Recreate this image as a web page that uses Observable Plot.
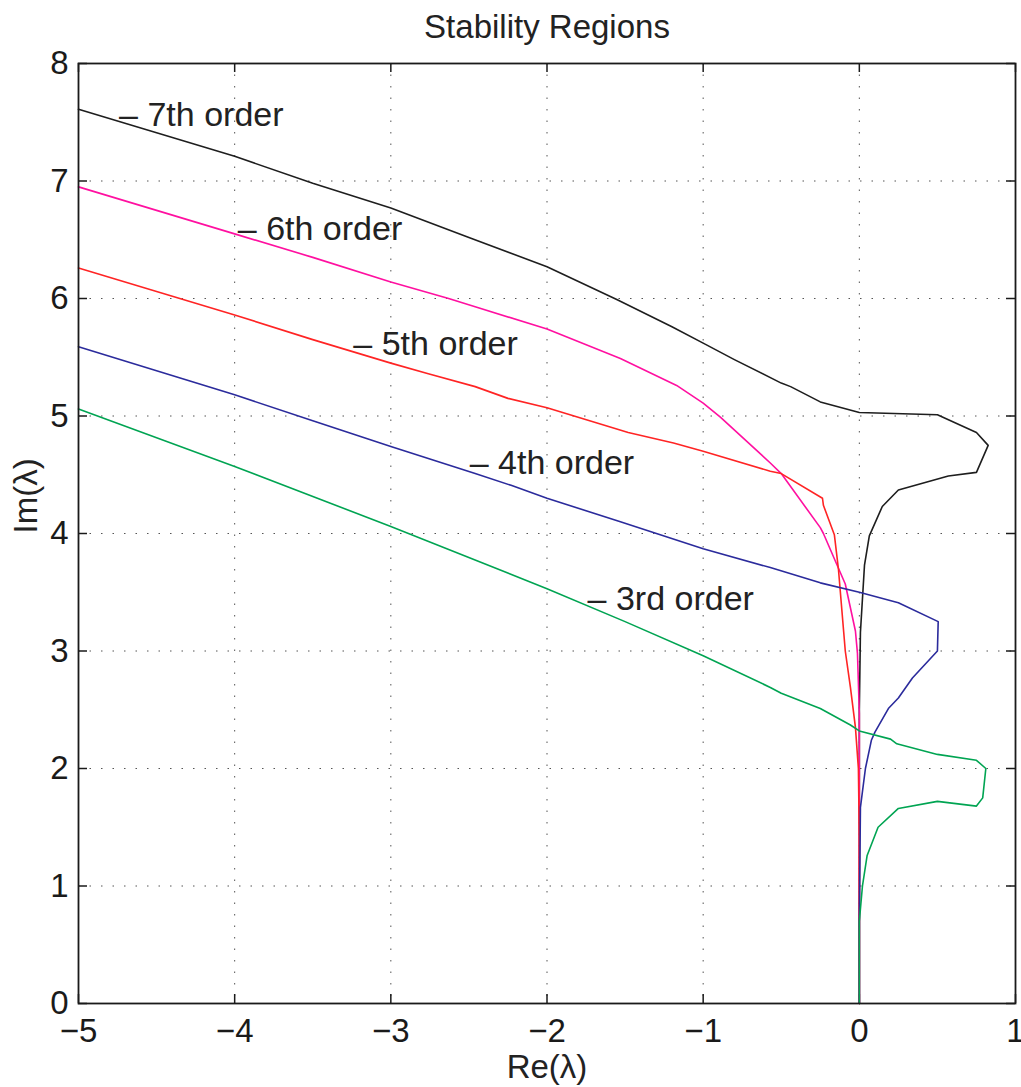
<!DOCTYPE html>
<html>
<head>
<meta charset="utf-8">
<script src="https://cdn.jsdelivr.net/npm/d3@7"></script>
<script src="https://cdn.jsdelivr.net/npm/@observablehq/plot@0.6"></script>
<style>
  html, body { margin: 0; padding: 0; background: white; }
  svg { overflow: visible; }
</style>
</head>
<body>
<div id="chart"></div>
<script>
// ---- data ----
const xTicks = [-5, -4, -3, -2, -1, 0, 1];
const yTicks = [0, 1, 2, 3, 4, 5, 6, 7, 8];

const order7X = [-5, -4, -3.5, -3, -2.5, -2, -1.55, -1.2, -1, -0.8, -0.5, -0.44, -0.25, 0, 0.5, 0.75, 0.825, 0.75, 0.57, 0.25, 0.147, 0.064, 0.033, 0.007, 0, 0];
const order7Y = [7.61, 7.21, 6.98, 6.77, 6.52, 6.27, 5.99, 5.76, 5.62, 5.48, 5.28, 5.25, 5.12, 5.03, 5.01, 4.86, 4.75, 4.52, 4.49, 4.37, 4.23, 3.98, 3.73, 3.16, 2.5, 0];

const order6X = [-5, -4, -3.5, -3, -2.63, -2.46, -2, -1.53, -1.17, -1, -0.89, -0.57, -0.5, -0.25, -0.23, -0.09, -0.025, -0.012, 0, 0];
const order6Y = [6.95, 6.55, 6.35, 6.14, 6.0, 5.93, 5.74, 5.49, 5.26, 5.11, 4.99, 4.6, 4.51, 4.05, 4.0, 3.57, 3.17, 2.98, 2.47, 0];

const order5X = [-5, -4, -3.5, -3, -2.76, -2.46, -2.25, -2, -1.48, -1.19, -1, -0.57, -0.5, -0.236, -0.23, -0.16, -0.134, -0.1, -0.09, -0.057, -0.025, -0.006, 0, 0];
const order5Y = [6.26, 5.86, 5.65, 5.45, 5.36, 5.25, 5.15, 5.07, 4.86, 4.77, 4.70, 4.53, 4.51, 4.30, 4.24, 3.99, 3.70, 3.16, 3.0, 2.69, 2.35, 2.0, 1.4, 0];

const order4X = [-5, -4, -3.5, -3, -2.46, -2.23, -2, -1.53, -1, -0.57, -0.25, 0, 0.25, 0.505, 0.5, 0.34, 0.25, 0.186, 0.1, 0.077, 0.039, 0.007, 0, 0];
const order4Y = [5.59, 5.18, 4.96, 4.74, 4.51, 4.41, 4.30, 4.10, 3.87, 3.71, 3.58, 3.50, 3.41, 3.25, 3.0, 2.77, 2.6, 2.51, 2.31, 2.24, 2.0, 1.67, 0.7, 0];

const order3X = [-5, -4, -3, -2, -1.5, -1, -0.57, -0.5, -0.25, -0.057, 0, 0.2, 0.24, 0.5, 0.75, 0.81, 0.79, 0.75, 0.5, 0.25, 0.12, 0.05, 0.02, 0, 0];
const order3Y = [5.06, 4.57, 4.06, 3.53, 3.25, 2.96, 2.69, 2.64, 2.51, 2.37, 2.32, 2.25, 2.21, 2.12, 2.07, 2.0, 1.75, 1.68, 1.72, 1.66, 1.5, 1.26, 1.0, 0.7, 0];

const seriesNames = ["7th", "6th", "5th", "4th", "3rd"];
const seriesColors = ["#1e1e1e", "#ff10a0", "#ff2424", "#2b2b9c", "#00a452"];

const labelText = ["– 7th order", "– 6th order", "– 5th order", "– 4th order", "– 3rd order"];
const labelX = [-4.74, -3.98, -3.24, -2.495, -1.74];
const labelY = [7.56, 6.59, 5.61, 4.60, 3.44];

// ---- build tables ----
const seriesXs = [order7X, order6X, order5X, order4X, order3X];
const seriesYs = [order7Y, order6Y, order5Y, order4Y, order3Y];
const curves = seriesNames.map((name, i) =>
  seriesXs[i].map((x, j) => ({series: name, x, y: seriesYs[i][j]}))
);
const labels = labelText.map((t, i) => ({text: t, x: labelX[i], y: labelY[i]}));

const W = 1021, H = 1087;
const mL = 78, mR = 6, mT = 63, mB = 84;
const plotW = W - mL - mR, plotH = H - mT - mB;
const tickLen = 9;
const font = "'Liberation Sans', Arial, Helvetica, sans-serif";
const intFmt = d3.format("d");

const gridStyle = {stroke: "#555", strokeOpacity: 1, strokeWidth: 1, strokeDasharray: "1.5,10"};

const chart = Plot.plot({
  width: W,
  height: H,
  marginLeft: mL,
  marginRight: mR,
  marginTop: mT,
  marginBottom: mB,
  style: {fontFamily: font, background: "white", color: "#1a1a1a", overflow: "visible"},
  x: {domain: [-5, 1]},
  y: {domain: [0, 8]},
  marks: [
    Plot.gridX(xTicks.slice(1, -1), gridStyle),
    Plot.gridY(yTicks.slice(1, -1), gridStyle),
    // inward ticks (MATLAB style) on all four sides
    Plot.tickY(yTicks, {y: d => d, insetRight: plotW - tickLen, stroke: "#1a1a1a", strokeWidth: 1.5}),
    Plot.tickY(yTicks, {y: d => d, insetLeft: plotW - tickLen, stroke: "#1a1a1a", strokeWidth: 1.5}),
    Plot.tickX(xTicks, {x: d => d, insetTop: plotH - tickLen, stroke: "#1a1a1a", strokeWidth: 1.5}),
    Plot.tickX(xTicks, {x: d => d, insetBottom: plotH - tickLen, stroke: "#1a1a1a", strokeWidth: 1.5}),
    ...curves.map((c, i) => Plot.line(c, {x: "x", y: "y", stroke: seriesColors[i], strokeWidth: 1.6, curve: "linear"})),
    Plot.frame({stroke: "#1a1a1a", strokeWidth: 1.8}),
    Plot.axisX({ticks: xTicks, tickFormat: intFmt, tickSize: 0, tickPadding: 15, fontSize: 33, label: null}),
    Plot.axisY({ticks: yTicks, tickFormat: intFmt, tickSize: 0, tickPadding: 10, fontSize: 33, label: null}),
    Plot.text(labels, {x: "x", y: "y", text: "text", textAnchor: "start", lineAnchor: "middle", fontSize: 34, fill: "#222"}),
    Plot.text(["Stability Regions"], {frameAnchor: "top", dy: -36, lineAnchor: "middle", fontSize: 33, fill: "#222"}),
    Plot.text(["Re(λ)"], {frameAnchor: "bottom", dy: 64, lineAnchor: "middle", fontSize: 33, fill: "#222"}),
    Plot.text(["Im(λ)"], {frameAnchor: "left", dx: -52, rotate: -90, lineAnchor: "middle", fontSize: 33, fill: "#222"})
  ]
});
document.getElementById("chart").appendChild(chart);
</script>
</body>
</html>
